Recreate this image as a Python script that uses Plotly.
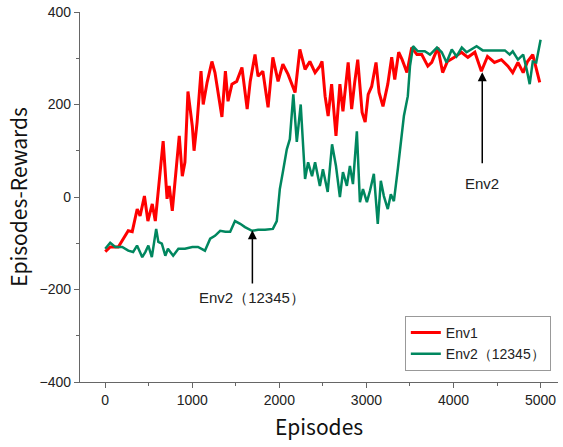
import plotly.graph_objects as go

env1_episodes = [0, 57, 150, 264, 310, 367, 400, 450, 490, 540, 575, 665, 710, 735, 770, 795, 850, 885, 915, 950,
                 1000, 1020, 1055, 1100, 1125, 1170, 1225, 1260, 1340, 1380, 1410, 1455, 1510, 1570, 1630, 1665,
                 1720, 1755, 1810, 1870, 1925, 1985, 2040, 2100, 2180, 2235, 2295, 2350, 2410, 2465, 2490, 2525,
                 2560, 2600, 2650, 2695, 2730, 2790, 2830, 2865, 2900, 2950, 2985, 3020, 3060, 3110, 3145, 3190,
                 3245, 3290, 3325, 3370, 3410, 3465, 3520, 3580, 3635, 3705, 3750, 3820, 3875, 3930, 4010, 4090,
                 4165, 4245, 4320, 4390, 4470, 4550, 4625, 4680, 4740, 4800, 4850, 4910, 4950, 4990]
env1_rewards = [-118, -108, -108, -73, -75, -26, -41, 2, -52, -15, -52, 121, -4, 24, -30, 17, 132, 45, 75, 228,
                153, 100, 162, 272, 200, 248, 293, 269, 173, 272, 207, 244, 250, 280, 190, 250,
                308, 261, 272, 194, 302, 250, 287, 265, 226, 319, 276, 293, 269, 283, 293, 218,
                175, 244, 132, 244, 185, 291, 190, 248, 297, 183, 162, 222, 239, 291, 226, 196,
                244, 302, 254, 313, 297, 269, 323, 308, 308, 283, 291, 323, 269, 293, 302, 313,
                302, 313, 272, 304, 291, 297, 283, 269, 291, 269, 293, 308, 276, 248]

env2_episodes = [0, 57, 115, 195, 264, 320, 365, 425, 460, 495, 535, 585, 610, 650, 690, 720, 780, 840, 915, 1000,
                 1065, 1145, 1205, 1260, 1320, 1380, 1435, 1490, 1550, 1605, 1685, 1755, 1835, 1925, 1970, 2005,
                 2040, 2085, 2120, 2160, 2200, 2245, 2295, 2330, 2375, 2410, 2465, 2500, 2555, 2605, 2650, 2695,
                 2730, 2775, 2810, 2845, 2890, 2925, 2960, 3005, 3040, 3085, 3130, 3165, 3200, 3245, 3280, 3315,
                 3360, 3395, 3430, 3475, 3500, 3535, 3590, 3670, 3730, 3810, 3865, 3920, 3980, 4035, 4095, 4150,
                 4210, 4265, 4335, 4440, 4590, 4645, 4680, 4740, 4800, 4840, 4875, 4910, 4950, 5000]
env2_rewards = [-112, -99, -108, -108, -116, -119, -105, -130, -119, -105, -130, -69, -97, -101, -127, -112, -127,
                -112, -112, -108, -108, -116, -90, -84, -73, -75, -75, -52, -58, -65, -73, -71, -71, -69, -52, 17,
                54, 103, 125, 222, 119, 200, 39, 75, 45, 75, 24, 60, 11, 114, 67, 0,
                54, 24, 67, 28, 142, -11, 17, -11, 13, 50, -58, 35, 2, -26, 6, -9,
                60, 119, 175, 218, 283, 326, 315, 315, 308, 323, 313, 291, 319, 304, 323, 313,
                319, 326, 317, 317, 317, 308, 315, 297, 308, 276, 244, 293, 291, 340]

x_ticks = [0, 1000, 2000, 3000, 4000, 5000]
y_ticks = [-400, -200, 0, 200, 400]

fig = go.Figure()
fig.add_trace(go.Scatter(x=env1_episodes, y=env1_rewards, mode="lines", name="Env1",
                         line=dict(color="#FF0000", width=3)))
fig.add_trace(go.Scatter(x=env2_episodes, y=env2_rewards, mode="lines", name="Env2（12345）",
                         line=dict(color="#00875F", width=2.5)))

# arrows
fig.add_annotation(x=1690, y=-72, ax=1690, ay=-190, xref="x", yref="y", axref="x", ayref="y",
                   text="", showarrow=True, arrowhead=2, arrowsize=1.2, arrowwidth=1.5, arrowcolor="black")
fig.add_annotation(x=1690, y=-218, xref="x", yref="y", text="Env2（12345）", showarrow=False,
                   font=dict(family="Liberation Sans, Arial", size=15, color="#222"))
fig.add_annotation(x=4330, y=270, ax=4330, ay=70, xref="x", yref="y", axref="x", ayref="y",
                   text="", showarrow=True, arrowhead=2, arrowsize=1.2, arrowwidth=1.5, arrowcolor="black")
fig.add_annotation(x=4330, y=30, xref="x", yref="y", text="Env2", showarrow=False,
                   font=dict(family="Liberation Sans, Arial", size=15, color="#222"))

fig.update_layout(
    width=563, height=447,
    margin=dict(l=80, r=5, t=12, b=65),
    paper_bgcolor="white", plot_bgcolor="white",
    font=dict(family="Liberation Sans, Arial", size=14, color="#222"),
    legend=dict(x=0.985, y=0.03, xanchor="right", yanchor="bottom",
                bgcolor="white", bordercolor="#999", borderwidth=1,
                font=dict(size=14), tracegroupgap=0, itemwidth=30),
    showlegend=True,
)
fig.update_xaxes(range=[-290, 5200], tickvals=x_ticks, ticks="outside", ticklen=5, tickcolor="#666",
                 showline=True, linecolor="#666", linewidth=1.2, showgrid=False, zeroline=False,
                 minor=dict(dtick=500, tick0=0, ticks="outside", ticklen=3, tickcolor="#666"),
                 title=dict(text="Episodes", font=dict(family="Noto Sans CJK SC", size=21, color="#111"), standoff=13))
fig.update_yaxes(range=[-400, 400], tickvals=y_ticks, ticks="outside", ticklen=5, tickcolor="#666",
                 showline=True, linecolor="#666", linewidth=1.2, showgrid=False, zeroline=False,
                 minor=dict(dtick=100, tick0=0, ticks="outside", ticklen=3, tickcolor="#666"),
                 title=dict(text="Episodes-Rewards", font=dict(family="Noto Sans CJK SC", size=21, color="#111"), standoff=6))

fig.write_html("out.html", config={"displayModeBar": False},
               post_script="document.body.style.margin='0';")
